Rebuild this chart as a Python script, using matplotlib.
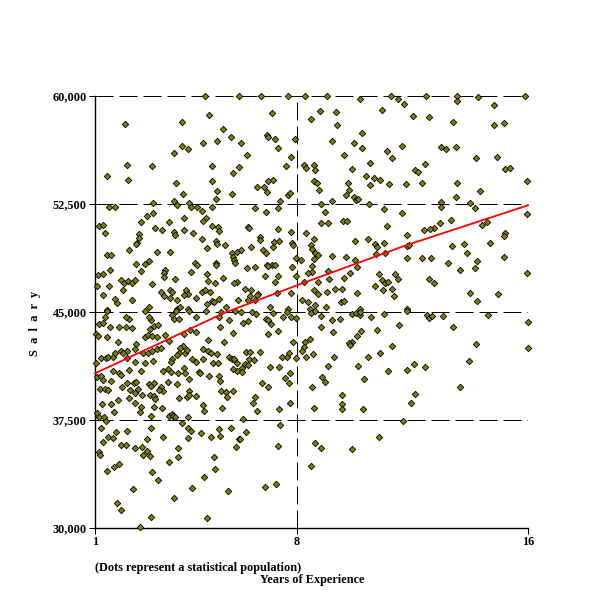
import numpy as np
import matplotlib
matplotlib.use("Agg")
import matplotlib.pyplot as plt
from matplotlib.ticker import FuncFormatter

# ---- data (years of experience, salary in thousands) ----
years_a = [4.81,5.99,4.96,2.03,4.00,5.42,5.70,5.21,4.73,4.00,4.21,3.74,2.10,2.99,5.04,5.99,1.40,2.13,3.79,5.04,
           5.77,5.21,4.04,5.75,5.18,3.74,3.83,4.24,3.02,1.48,1.68,4.31,4.52,5.04,4.71,2.79,3.00,4.08,4.83,4.75,
           1.13,1.29,2.58,3.56,3.07,3.31,3.73,3.76,4.08,4.38,5.04,5.25,5.28,1.33,2.54,2.51,2.44,2.41,4.70,5.18,
           5.21,4.87,5.49,2.17,3.14,3.59,1.43,1.54,5.73,5.92,5.77,5.82,5.86,2.41,2.72,2.86,4.45,4.53,5.18,5.19,
           1.51,2.58,4.31,1.09,1.27,3.44,3.39,4.87,4.93,1.06,1.48,1.89,2.00,2.14,2.27,2.37,2.97,3.39,3.77,5.17,
           5.43,5.92,5.80,1.96,3.27,3.60,3.66,4.14,4.21,4.08,4.71,4.80,5.00,1.27,3.39,3.59,4.50,1.68,2.27,1.76,
           3.84,5.04,5.11,5.31,5.97,4.87,3.85,3.96,4.21,5.53,1.42,2.86]
salary_a = [60.0,60.0,58.70,58.08,58.22,57.73,57.18,56.90,56.76,56.55,56.34,56.02,55.23,55.16,55.16,55.09,54.47,54.14,53.98,54.07,
            54.63,53.38,53.22,53.22,52.87,52.69,52.43,52.59,52.59,52.31,52.31,52.31,52.31,52.31,52.04,51.69,51.90,51.55,51.55,51.34,
            50.99,51.06,51.27,51.27,50.86,50.72,50.58,50.35,50.69,50.51,50.99,50.91,50.65,50.51,50.44,50.16,49.81,49.72,50.09,49.95,
            49.72,49.47,49.67,49.33,49.17,49.17,48.98,48.98,49.12,49.19,48.80,48.61,48.43,48.36,48.36,48.56,48.43,48.26,48.43,48.26,
            47.94,47.85,47.80,47.55,47.66,47.89,47.68,47.66,47.15,46.83,46.83,47.22,47.04,47.15,47.04,47.24,46.91,47.45,47.27,47.04,
            47.36,47.11,46.99,46.53,46.41,46.55,46.39,46.55,46.27,46.20,46.41,46.50,46.41,46.20,46.13,45.95,45.99,45.92,45.83,45.60,
            45.83,45.76,45.67,45.90,45.86,45.53,45.23,45.32,45.23,45.37,45.16,45.32]

years_b = [1.40,2.73,3.81,4.24,4.85,5.35,5.86,1.33,1.15,1.29,1.52,1.84,2.07,2.19,2.07,2.27,2.94,3.06,3.17,2.91,
           2.86,3.66,3.74,3.92,4.50,5.28,5.65,5.33,1.02,1.12,1.43,1.81,2.41,2.37,2.11,2.72,2.85,2.96,3.14,3.44,
           3.55,4.04,3.94,3.90,4.11,4.19,4.29,4.08,4.50,4.90,4.75,4.90,5.01,5.21,5.46,5.77,1.03,1.21,1.39,1.46,
           1.61,1.68,1.89,1.96,2.10,2.67,2.82,2.97,3.14,3.30,3.02,2.72,2.39,3.67,3.62,3.85,4.35,4.50,4.75,5.10,
           5.25,5.65,5.73,5.82,5.91,5.91,5.77,1.06,1.21,1.29,1.61,1.84,1.90,2.17,2.58,3.34,3.53,3.64,3.88,4.08,
           4.12,4.24,4.59,4.65,4.94,5.28,5.33,1.55,1.17,1.33,1.44,1.92,2.10,2.35,2.41,2.87,2.93,3.06,3.29,3.34,
           3.54,3.85,4.27,2.21,2.37,2.50,2.62,2.92,3.03,3.23,3.09,3.91,4.18,4.24,4.49,5.38,5.54,5.57,5.77,1.23,
           1.55,1.79,1.67,2.19,2.40,2.59,2.56,3.03,3.31,4.73,4.79,5.39,1.06,1.15,1.32,1.37,3.55,3.66,3.70,3.77,
           2.94,4.21,4.00,1.20,1.45,1.64,1.73,2.10,1.27,1.89,2.09,2.39,2.64,2.79,2.93,3.34,4.22,4.31,4.22,4.67,
           5.01,5.31,5.33,5.71,5.87,5.99,1.15,1.17,1.66,1.84,1.40,2.67,2.79,2.91,3.57,3.86,3.86,5.11,5.15,4.76,
           2.96,3.17,2.30,4.36,3.74,5.60,1.75,1.89,2.93,4.89,2.56]
salary_b = [45.09,45.09,45.09,45.09,45.09,45.02,45.09,44.68,44.17,44.21,43.98,43.98,43.98,44.49,44.68,43.87,44.45,44.03,44.10,43.80,
            44.68,44.79,44.49,44.51,44.68,44.68,44.45,43.98,43.47,43.33,43.29,42.94,42.78,42.41,42.32,43.29,43.38,43.33,43.24,43.40,
            43.01,42.64,42.48,42.13,42.13,42.36,43.75,43.47,43.64,43.06,42.41,42.32,42.18,42.08,42.94,43.54,41.44,41.83,41.78,41.85,
            41.90,42.13,42.32,42.18,41.83,42.18,42.18,42.32,42.43,42.52,41.60,41.48,41.55,41.76,41.51,42.01,41.71,41.51,41.71,41.44,
            41.44,41.85,41.76,41.71,41.44,40.93,41.02,40.46,40.56,40.28,40.90,40.74,40.60,40.97,40.93,40.93,41.02,40.83,40.74,41.14,
            40.74,40.35,40.86,40.74,40.58,40.58,40.23,40.23,39.65,39.65,39.58,39.82,40.09,40.05,40.16,40.02,39.89,40.09,39.77,39.54,
            40.16,40.00,39.49,39.58,39.40,39.63,39.21,39.21,39.17,39.58,38.94,39.03,39.07,39.26,39.19,39.54,39.45,39.07,39.51,38.61,
            38.61,38.89,38.08,39.01,38.66,38.38,38.08,38.43,38.36,38.54,38.15,38.36,38.01,37.69,37.69,37.45,37.80,37.92,37.78,37.73,
            37.80,37.73,37.32,36.97,36.34,36.23,36.69,36.76,35.99,35.76,35.76,35.53,35.65,36.16,36.97,36.34,36.92,36.76,36.27,36.62,
            36.30,36.90,36.41,36.97,35.65,36.16,35.30,35.07,34.26,34.45,33.96,35.07,35.37,35.02,34.61,35.53,34.95,34.95,34.12,33.57,
            33.91,33.33,32.73,32.80,32.11,32.59,31.76,31.27,30.79,30.72,30.09]

years_c = [6.75,7.67,8.27,9.02,10.18,7.12,8.79,9.34,8.48,9.38,10.93,6.95,7.00,7.23,7.93,6.06,7.33,9.20,9.97,10.24,
           10.24,6.25,9.61,7.78,7.60,8.24,8.32,8.60,8.62,9.92,10.51,10.38,10.68,10.89,6.98,7.17,6.60,6.86,6.96,8.57,
           8.69,8.76,9.75,9.79,10.53,9.69,9.97,10.04,10.12,7.41,7.67,7.75,9.20,6.54,7.35,8.83,10.48,11.01,6.92,8.97,
           6.29,6.33,7.33,8.83,9.06,9.60,9.72,6.72,6.73,8.30,8.57,7.79,10.00,10.44,11.00,10.70,10.77,6.39,7.15,7.36,
           7.19,7.83,7.87,8.48,6.06,6.81,6.91,8.50,8.62,8.74,9.20,9.68,7.12,6.95,7.23,7.97,8.12,8.57,10.00,10.09,
           10.73,6.25,6.56,6.89,7.33,7.00,7.81,8.52,8.53,8.37,9.08,9.82,9.61,7.23,7.96,8.24,8.74,9.10,10.84,10.93,
           10.70,10.96,6.19,6.40,6.66,6.60,6.36,7.32,7.78,8.57,9.05,9.31,9.54,10.08,8.71,6.29,6.54,8.18,8.39,8.63,
           8.99,9.52,9.64,10.18,7.07,7.67,8.44]
salary_c = [60.0,60.0,60.0,60.0,59.82,58.84,58.98,58.89,58.43,57.96,59.03,57.27,57.18,57.04,57.04,56.76,56.41,56.90,56.76,57.41,
            56.41,55.93,55.93,55.79,55.16,55.23,55.00,55.23,54.86,54.95,55.37,54.44,54.31,54.19,54.12,54.19,53.70,53.66,53.36,54.07,
            53.96,53.45,53.98,53.50,53.84,53.15,53.01,52.78,52.82,52.73,53.12,53.29,52.73,52.24,52.24,52.52,52.52,52.18,51.97,51.97,
            50.93,50.86,50.79,51.20,51.20,51.34,51.34,50.23,49.98,50.51,50.09,50.58,49.95,50.09,49.79,49.74,49.54,49.49,49.54,49.95,
            49.84,49.81,49.65,49.63,49.30,49.30,49.07,49.35,49.12,48.98,48.91,48.84,48.29,48.29,48.29,48.77,48.63,48.68,48.61,48.15,
            49.03,48.08,48.10,47.52,47.52,48.22,48.15,48.22,47.78,47.71,47.85,47.68,47.36,47.11,47.48,47.11,47.11,47.27,47.66,47.22,
            46.80,46.55,46.57,46.53,46.25,46.16,46.13,46.34,46.34,46.50,46.41,46.60,46.60,46.30,46.23,45.83,45.83,45.83,45.67,45.46,
            45.35,45.69,45.79,45.21,45.37,45.21,45.18]

years_d = [6.06,6.45,6.57,7.15,7.66,7.52,7.79,7.98,8.48,8.62,8.83,9.20,9.49,9.89,10.03,10.17,10.18,10.55,11.01,6.13,
           6.29,6.93,7.00,7.08,7.00,7.33,8.83,9.23,10.20,10.09,9.92,9.80,9.83,10.76,7.86,8.27,8.44,8.24,8.16,8.55,
           8.30,7.98,7.64,7.48,7.72,6.22,6.36,6.70,6.35,6.52,9.27,10.47,10.89,6.18,6.31,6.08,6.10,7.05,7.36,9.06,
           10.10,7.75,7.58,7.71,6.77,7.01,8.52,8.85,8.96,10.31,6.54,6.46,6.60,7.36,7.74,8.57,9.57,9.57,9.57,10.27,
           6.13,7.40,6.22,6.02,7.33,8.61,8.83,9.89,10.83,8.48,6.88,7.26]
salary_d = [45.02,45.02,44.86,44.95,45.02,44.63,44.68,44.56,44.95,45.09,44.72,44.45,44.49,44.86,44.95,44.79,45.02,44.63,44.86,44.26,
            44.40,44.49,44.45,44.17,43.47,43.70,43.98,43.64,43.70,43.36,42.94,42.87,42.71,43.75,42.94,42.94,43.15,42.59,42.32,42.06,
            41.88,41.83,41.90,41.90,42.13,42.25,42.25,42.25,41.71,41.67,41.90,41.90,42.13,41.39,41.30,41.09,40.86,41.20,41.20,41.27,
            41.27,40.74,40.44,40.05,40.05,39.82,39.82,40.51,40.12,40.33,39.12,38.66,38.15,38.29,38.70,38.36,39.26,38.63,38.24,38.29,
            37.55,37.15,36.69,36.16,35.72,35.93,35.58,35.51,36.34,34.33,32.87,33.08]

years_e = [11.25,11.48,11.69,12.45,13.53,13.53,14.26,14.81,15.88,12.00,12.56,13.39,14.81,15.16,11.62,11.10,11.28,12.99,13.15,13.50,
           14.19,14.91,12.42,12.07,12.18,15.21,15.38,11.18,11.76,12.32,13.53,14.33,15.95,13.50,12.97,12.97,13.98,14.15,11.62,11.10,
           13.32,12.95,12.73,12.59,12.38,11.80,14.41,14.57,15.20,15.16,15.95,11.80,11.89,13.35,13.78,14.67,13.89,14.23,14.15,13.22,
           13.63,15.16,12.32,12.63,11.80,11.06,11.40,11.48,11.05,11.15,11.29,11.35,12.56,12.73,13.98,14.23,14.95,15.95,11.80,
           11.80,12.49,12.58,12.66,13.04,14.60,11.53,13.39,15.99,11.28,14.19,15.99,12.04,11.14,11.80,12.42,13.94,13.63,12.07,11.93,
           11.68]
salary_e = [60.0,59.77,59.47,60.0,60.0,59.68,59.95,59.40,60.0,58.63,58.57,58.22,58.01,58.15,56.55,56.20,55.72,56.48,56.34,56.48,
            55.72,55.79,55.30,54.88,54.70,54.95,55.02,53.91,53.91,53.98,53.98,53.43,54.12,53.01,52.62,52.31,52.59,52.24,51.90,50.99,
            51.41,51.20,50.86,50.79,50.72,50.37,51.06,51.25,50.51,50.30,51.83,49.61,49.65,49.61,49.74,49.81,49.12,48.56,48.08,48.43,
            47.94,48.84,48.77,48.77,48.77,49.07,47.61,47.31,47.04,47.11,46.62,46.13,47.31,47.04,46.34,45.79,46.27,47.73,45.18,
            45.09,44.82,44.56,44.72,44.75,44.82,44.12,43.98,44.33,42.66,42.80,42.52,41.41,40.93,40.98,41.20,41.62,39.82,39.33,38.70,
            37.45]

# fitted trend
trend_years = [1.0, 3.1, 5.44, 8.03, 11.8, 16.0]
trend_salary = [40.74, 42.7, 44.91, 46.88, 49.65, 52.41]

x_ticks = [1, 8, 16]
y_ticks = [30000, 37500, 45000, 52500, 60000]

years = np.array(years_a + years_b + years_c + years_d + years_e)
salary = np.array(salary_a + salary_b + salary_c + salary_d + salary_e) * 1000

# ---- figure ----
fig = plt.figure(figsize=(6, 6), dpi=100)
ax = fig.add_axes([95/600, 72/600, 433/600, 432/600])
ax.set_xlim(1, 16)
ax.set_ylim(30000, 60000)

dash = (0, (18, 6))
lw = 0.72
for y in y_ticks[1:]:
    ax.axhline(y, color='black', lw=lw, linestyle=dash, zorder=1)
for x in x_ticks[1:]:
    ax.axvline(x, color='black', lw=lw, linestyle=dash, zorder=1)

for s in ['top', 'right']:
    ax.spines[s].set_visible(False)
for s in ['left', 'bottom']:
    ax.spines[s].set_linewidth(lw * 1.4)
    ax.spines[s].set_color('black')

ax.plot(years, salary, linestyle='none', marker='D', markersize=3.3,
        markerfacecolor='#808000', markeredgecolor='black', markeredgewidth=0.6,
        clip_on=False, zorder=3)

ax.plot(trend_years, np.array(trend_salary) * 1000, color='#ff0000', lw=1.3, zorder=4,
        clip_on=False)

font = dict(family='Liberation Serif', weight='bold', size=8.8)
ax.set_xticks(x_ticks)
ax.set_yticks(y_ticks)
ax.yaxis.set_major_formatter(FuncFormatter(lambda v, p: f"{v:,.0f}"))
ax.tick_params(direction='out', length=4, width=lw, color='black', pad=2)
for lab in ax.get_xticklabels() + ax.get_yticklabels():
    lab.set_fontfamily('Liberation Serif')
    lab.set_fontweight('bold')
    lab.set_fontsize(8.8)

fig.text(35/600, 1 - 323/600, "S  a  l  a  r  y", rotation=90, ha='center', va='center', **font)
fig.text(95/600, 1 - 568/600, "(Dots represent a statistical population)", ha='left', va='center', **font)
fig.text(260/600, 1 - 580/600, "Years of Experience", ha='left', va='center', **font)

fig.savefig("out.png", dpi=100, facecolor='white')
